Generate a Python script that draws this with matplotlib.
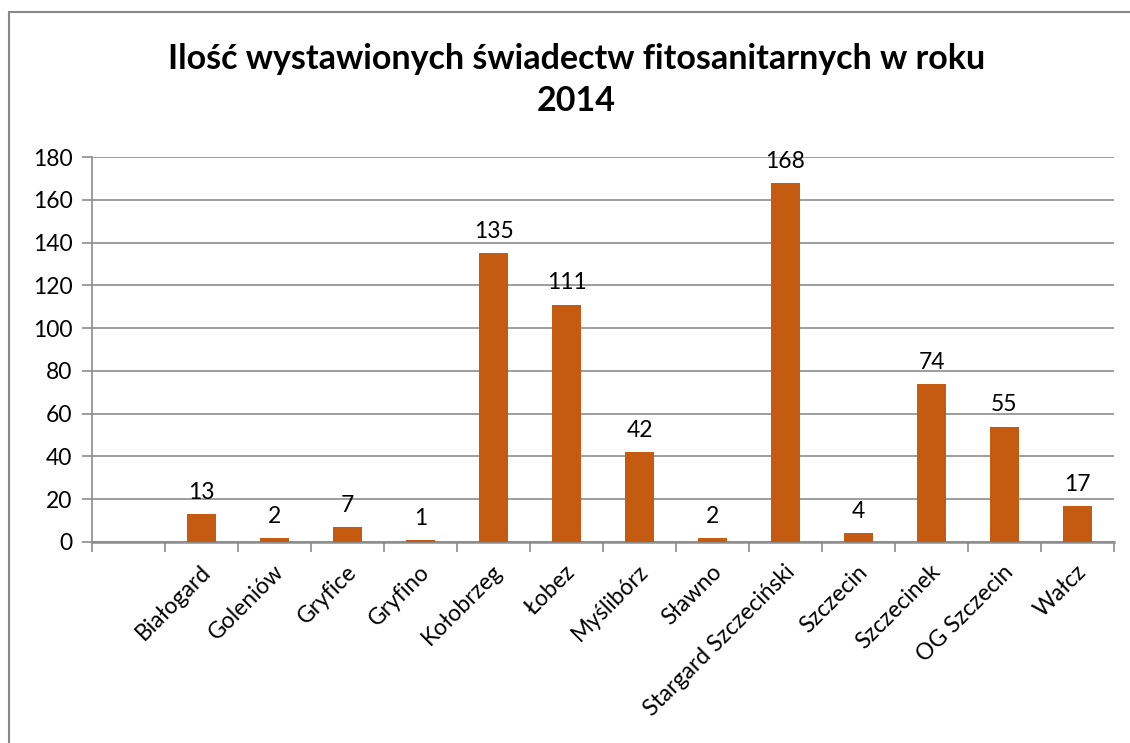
import matplotlib.pyplot as plt
from matplotlib.patches import Rectangle

plt.rcParams['font.family'] = ['Lato', 'DejaVu Sans']

# first category is empty in the original sheet
categories = ['', 'Białogard', 'Goleniów', 'Gryfice', 'Gryfino', 'Kołobrzeg', 'Łobez',
              'Myślibórz', 'Sławno', 'Stargard Szczeciński', 'Szczecin', 'Szczecinek',
              'OG Szczecin', 'Wałcz']
values = [None, 13, 2, 7, 1, 135, 111, 42, 2, 168, 4, 74, 54, 17]
value_labels = ['', '13', '2', '7', '1', '135', '111', '42', '2', '168', '4', '74', '55', '17']
title = 'Ilość wystawionych świadectw fitosanitarnych w roku\n2014'

bar_color = '#C55A11'
grid_color = '#8C8C8C'

fig = plt.figure(figsize=(11.3, 7.43), dpi=100)
ax = fig.add_axes([92 / 1130, 1 - 542 / 743, (1114 - 92) / 1130, (542 - 157) / 743])

xs = list(range(len(categories)))
for x, v, lab in zip(xs, values, value_labels):
    if v is None:
        continue
    ax.bar(x, v, width=0.4, color=bar_color, zorder=3)
    ax.annotate(lab, (x, v), xytext=(0, 8), textcoords='offset points',
                ha='center', va='bottom', fontsize=16.5)

ax.set_xlim(-0.5, len(categories) - 0.5)
ax.set_ylim(0, 180)
ax.set_yticks(range(0, 181, 20))
ax.yaxis.grid(True, color=grid_color, linewidth=1.2, zorder=0)
ax.tick_params(axis='y', length=7, width=1.2, color=grid_color, labelsize=16.5, pad=7)

# category boundary ticks on x
ax.set_xticks([x - 0.5 for x in xs] + [len(categories) - 0.5])
ax.set_xticklabels([])
ax.tick_params(axis='x', length=7, width=1.2, color=grid_color)
for x, c in zip(xs, categories):
    ax.annotate(c, (x, 0), xytext=(4, -19), textcoords='offset points',
                rotation=45, rotation_mode='anchor', ha='right', va='center',
                fontsize=16.5, annotation_clip=False)

for s in ['top', 'right']:
    ax.spines[s].set_visible(False)
ax.spines['left'].set_color(grid_color)
ax.spines['bottom'].set_color(grid_color)
ax.spines['left'].set_linewidth(1.2)
ax.spines['bottom'].set_linewidth(1.8)

fig.text(0.51, 1 - 80 / 743, title, ha='center', va='center', fontsize=24.5,
         fontweight='bold', linespacing=1.35)

# outer chart frame
fig.patches.append(Rectangle((9 / 1130, -0.01), 1.2, 1 - 12 / 743 + 0.01,
                             transform=fig.transFigure, fill=False,
                             edgecolor='#888888', linewidth=1.5))

fig.savefig('out.png', dpi=100)
